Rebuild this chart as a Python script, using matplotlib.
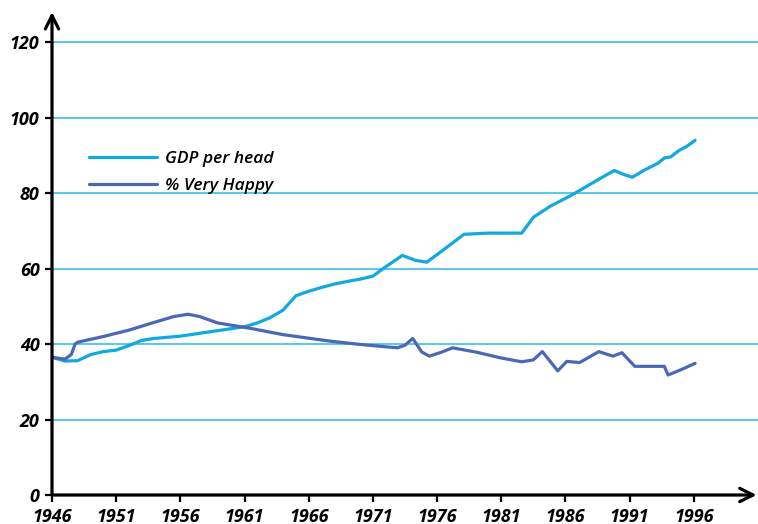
import numpy as np
import matplotlib.pyplot as plt

# values (year, value)
gdp_years = [1946, 1947, 1948, 1949, 1950, 1951, 1952, 1953, 1954, 1955, 1956,
             1957, 1958, 1959, 1960, 1961, 1962, 1963, 1964, 1965, 1966, 1967,
             1968, 1969, 1970, 1971, 1972, 1973.3, 1974.3, 1975.2, 1976.5,
             1978.1, 1980, 1982.6, 1983.5, 1984.8, 1986.5, 1988, 1989.8,
             1990.5, 1991.2, 1992.2, 1993.2, 1993.7, 1994.2, 1994.8, 1995.5,
             1996.1]
gdp_values = [36.5, 35.5, 35.6, 37.2, 38.0, 38.4, 39.6, 41.0, 41.5, 41.8, 42.1,
              42.6, 43.1, 43.6, 44.1, 44.6, 45.6, 47.0, 49.0, 52.8, 54.0, 55.0,
              55.9, 56.6, 57.2, 58.0, 60.5, 63.5, 62.2, 61.7, 65.0,
              69.1, 69.4, 69.4, 73.6, 76.5, 79.5, 82.5, 86.0,
              85.0, 84.2, 86.2, 87.9, 89.3, 89.6, 91.2, 92.5,
              94.0]

happy_years = [1946, 1947, 1947.5, 1947.8, 1948, 1950, 1952, 1954, 1955.5,
               1956.6, 1957.5, 1958.9, 1961.4, 1964, 1967.6, 1970, 1972.9,
               1973.5, 1974.1, 1974.8, 1975.4, 1976.3, 1977.2, 1979, 1981,
               1982.6, 1983.5, 1984.2, 1985.4, 1986.1, 1987.1, 1988.6,
               1989.7, 1990.4, 1991.4, 1992.5, 1993.7, 1994.0, 1995, 1996.1]
happy_values = [36.5, 36.0, 37.2, 40.0, 40.5, 42.0, 43.7, 45.8, 47.3,
                47.9, 47.3, 45.6, 44.2, 42.5, 40.8, 39.9, 39.0,
                39.7, 41.5, 37.9, 36.8, 37.8, 39.0, 37.9, 36.3,
                35.3, 35.8, 38.0, 32.9, 35.4, 35.1, 38.0,
                36.8, 37.7, 34.1, 34.1, 34.1, 31.8, 33.2, 34.9]

y_ticks = [0, 20, 40, 60, 80, 100, 120]
x_ticks = [1946, 1951, 1956, 1961, 1966, 1971, 1976, 1981, 1986, 1991, 1996]

plt.rcParams['font.family'] = ['Open Sans', 'DejaVu Sans']

fig = plt.figure(figsize=(7.58, 5.24), dpi=100)
ax = fig.add_axes([52 / 758, 1 - 495 / 524, 1 - 52 / 758, (495 - 12) / 524])

for y in y_ticks[1:]:
    ax.axhline(y, color='#3BBDEA', lw=1.2, zorder=1)

ax.plot(gdp_years, gdp_values, color='#12A8E0', lw=2.3, label='GDP per head',
        solid_capstyle='round', solid_joinstyle='round', zorder=3)
ax.plot(happy_years, happy_values, color='#4A68B3', lw=2.3, label='% Very Happy',
        solid_capstyle='round', solid_joinstyle='round', zorder=3)

ax.set_xlim(1946, 2001)
ax.set_ylim(0, 128)
ax.set_xticks(x_ticks)
ax.set_yticks(y_ticks)
ax.tick_params(direction='out', length=5, width=1.6, color='black',
               labelsize=13, pad=4)
for lab in ax.get_xticklabels() + ax.get_yticklabels():
    lab.set_fontstyle('italic')
    lab.set_fontweight('bold')

for s in ax.spines.values():
    s.set_visible(False)

arrow = dict(arrowstyle='->', lw=2.3, color='black', mutation_scale=24,
             shrinkA=0, shrinkB=0)
ax.annotate('', xy=(0, 1), xytext=(0, 0), xycoords='axes fraction',
            arrowprops=arrow, annotation_clip=False)
ax.annotate('', xy=(0.998, 0), xytext=(0, 0), xycoords='axes fraction',
            arrowprops=arrow, annotation_clip=False)

leg = ax.legend(loc='upper left', bbox_to_anchor=(37 / 706, 1 - (151 - 12) / 483),
                frameon=False, handlelength=3.9, handletextpad=0.45,
                labelspacing=0.62, borderpad=0, borderaxespad=0,
                prop={'size': 12.5, 'style': 'italic', 'weight': 'semibold'})

fig.savefig('out.png', dpi=100)
